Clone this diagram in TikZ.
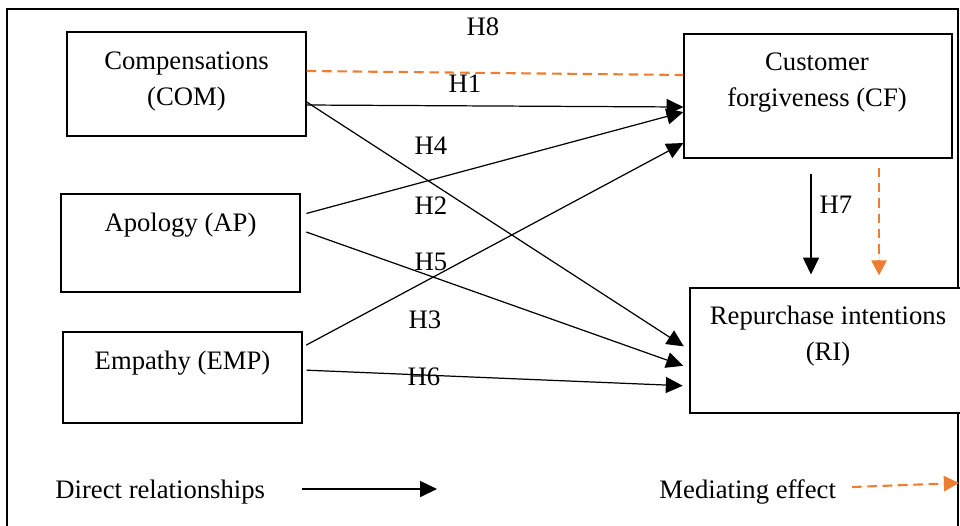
\documentclass[tikz,border=0pt]{standalone}
\usepackage{fontspec}
\setmainfont{Liberation Serif}
\usepackage{xcolor}
\usetikzlibrary{arrows.meta,calc}
\definecolor{medorange}{RGB}{237,125,49}
\tikzset{
	factor/.style={draw, line width=0.55pt, fill=white, inner sep=0pt, minimum width=107.6pt},
	caption/.style={align=center, inner sep=0pt, font=\fontsize{12}{16.2}\selectfont},
	direct/.style={line width=0.55pt, -{Triangle[length=7.6pt,width=7.2pt]}},
	mediate/.style={draw=medorange, line width=0.95pt, dash pattern=on 4.3pt off 2.6pt}
}

\begin{document}
\begin{tikzpicture}[x=0.45pt, y=-0.45pt]
        \clip (0,0) rectangle (960,525);
        \draw [line width=1.2pt] (7,560) -- (7,9) -- (958,9) -- (958,560);
        \node [factor, minimum height=46.8pt] (com) at (186.5,84) {};
        \node [factor, minimum height=44.1pt] (ap) at (180.5,243) {};
        \node [factor, minimum height=41pt] (emp) at (182.5,377.5) {};
        \node [factor, minimum width=120.6pt, minimum height=55.8pt] (cf) at (818,96) {};
        \node [factor, minimum width=124.2pt, minimum height=56.25pt] (ri) at (828,350.5) {};
        \node [caption] (comtext) at (186.5,81) {Compensations\\(COM)};
        \node [caption] (aptext) at (180.5,225) {Apology (AP)};
        \node [caption] (emptext) at (182.5,363) {Empathy (EMP)};
        \node [caption] (cftext) at (817,83) {Customer\\forgiveness (CF)};
        \node [caption] (ritext) at (828,336) {Repurchase intentions\\(RI)};
        \draw [mediate] (com.east |- 0,71) -- (cf.west |- 0,75);
        \draw [direct] (com.east |- 0,105) -- (cf.west |- 0,107);
        \draw [direct, shorten >=3pt] (com.east |- 0,102) -- (ri.west |- 0,350);
        \draw [direct, shorten <=2.7pt] (ap.east |- 0,215) -- (cf.west |- 0,112);
        \draw [direct, shorten <=2.7pt, shorten >=3pt] (ap.east |- 0,230) -- (ri.west |- 0,368);
        \draw [direct, shorten <=1.8pt] (emp.east |- 0,347) -- (cf.west |- 0,143);
        \draw [direct, shorten <=1.8pt, shorten >=3pt] (emp.east |- 0,370) -- (ri.west |- 0,386);
        \draw [direct, shorten <=6.8pt, shorten >=5.8pt] (cf.south -| 811,0) -- (ri.north -| 811,0);
        \draw [mediate, -{Triangle[length=6.8pt,width=6.8pt]}, fill=medorange, shorten <=4pt, shorten >=5.4pt] (cf.south -| 879,0) -- (ri.north -| 879,0);
        \node [caption] (h8) at (483,27) {H8};
        \node [caption] (h1) at (465,84) {H1};
        \node [caption] (h4) at (431,146) {H4};
        \node [caption] (h2) at (431,206) {H2};
        \node [caption] (h5) at (431,262) {H5};
        \node [caption] (h3) at (425,320) {H3};
        \node [caption] (h6) at (424,377) {H6};
        \node [caption] (h7) at (836,205) {H7};
        \node [caption, anchor=west] (directkey) at (55,492) {Direct relationships};
        \node [caption, anchor=west] (mediatekey) at (659,492) {Mediating effect};
        \coordinate (directfrom) at (302,489);
        \coordinate (directto) at (437,489);
        \coordinate (mediatefrom) at (852,487);
        \coordinate (mediateto) at (959,483);
        \draw [direct] (directfrom) -- (directto);
        \draw [mediate, -{Triangle[length=6.8pt,width=6.8pt]}, fill=medorange] (mediatefrom) -- (mediateto);
    \end{tikzpicture}
\end{document}
